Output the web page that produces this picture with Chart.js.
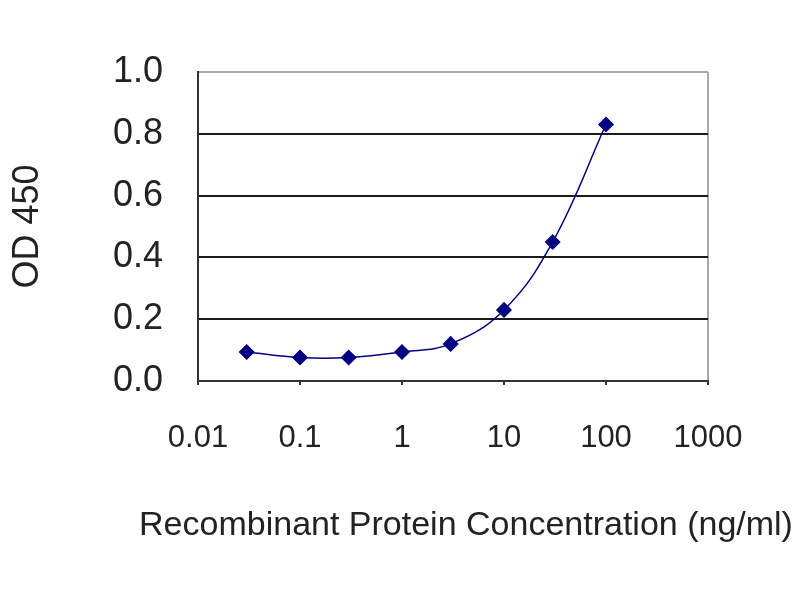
<!DOCTYPE html>
<html>
<head>
<meta charset="utf-8">
<script src="https://cdn.jsdelivr.net/npm/chart.js@4/dist/chart.umd.min.js"></script>
<style>
  html, body { margin: 0; padding: 0; background: #fff; }
  #wrap { width: 800px; height: 600px; }
</style>
</head>
<body>
<div id="wrap"><canvas id="chart"></canvas></div>
<script>
// concentrations (ng/ml) and OD 450 readings
const concentrations = [0.03, 0.1, 0.3, 1, 3, 10, 30, 100];
const od450 = [0.094, 0.076, 0.076, 0.094, 0.12, 0.23, 0.45, 0.83];
const xTickValues = [0.01, 0.1, 1, 10, 100, 1000];
const yTickValues = [0, 0.2, 0.4, 0.6, 0.8, 1.0];
const xTitle = 'Recombinant Protein Concentration (ng/ml)';

const textColor = '#222';
const font = 'Liberation Sans, Arial, sans-serif';

// the axis title is wider than the plot, so the built-in one would get squeezed
const xTitlePlugin = {
  id: 'xTitle',
  afterDraw(chart) {
    const c = chart.ctx;
    c.save();
    c.font = '34px ' + font;
    c.fillStyle = textColor;
    c.textAlign = 'center';
    c.textBaseline = 'middle';
    c.fillText(xTitle, 466, 526);
    c.restore();
  }
};

const ctx = document.getElementById('chart').getContext('2d');
new Chart(ctx, {
  type: 'line',
  data: {
    datasets: [{
      data: concentrations.map((c, i) => ({ x: c, y: od450[i] })),
      borderColor: '#000080',
      backgroundColor: '#000080',
      borderWidth: 1.5,
      tension: 0.4,
      pointStyle: 'rectRot',
      pointRadius: 7,
      pointHoverRadius: 7,
      fill: false
    }]
  },
  options: {
    responsive: true,
    maintainAspectRatio: false,
    animation: false,
    layout: { padding: { left: 0, right: 92, top: 72, bottom: 40 } },
    plugins: {
      legend: { display: false },
      tooltip: { enabled: false }
    },
    scales: {
      x: {
        type: 'logarithmic',
        min: 0.01,
        max: 1000,
        afterBuildTicks: scale => { scale.ticks = xTickValues.map(v => ({ value: v })); },
        afterFit: scale => { scale.height = 179; },
        border: { color: '#333', width: 2 },
        grid: {
          drawOnChartArea: true,
          drawTicks: true,
          tickLength: 4,
          tickColor: '#333',
          color: c => (c.tick && c.tick.value === 1000) ? '#a8a8a8' : 'rgba(0,0,0,0)',
          lineWidth: 2
        },
        ticks: {
          autoSkip: false,
          maxRotation: 0,
          padding: 35,
          color: textColor,
          font: { family: font, size: 31 },
          callback: v => String(v)
        }
      },
      y: {
        min: 0,
        max: 1.0,
        afterBuildTicks: scale => { scale.ticks = yTickValues.map(v => ({ value: v })); },
        afterFit: scale => { scale.width = 198; },
        border: { color: '#333', width: 2 },
        grid: {
          drawTicks: false,
          color: c => (c.tick && c.tick.value === 1.0) ? '#a8a8a8' : '#1a1a1a',
          lineWidth: 2
        },
        ticks: {
          padding: 35,
          color: textColor,
          font: { family: font, size: 36 },
          callback: v => v.toFixed(1)
        },
        title: {
          display: true,
          text: 'OD 450',
          color: textColor,
          font: { family: font, size: 36 },
          padding: { top: 6, bottom: 0 }
        }
      }
    }
  },
  plugins: [xTitlePlugin]
});
</script>
</body>
</html>
